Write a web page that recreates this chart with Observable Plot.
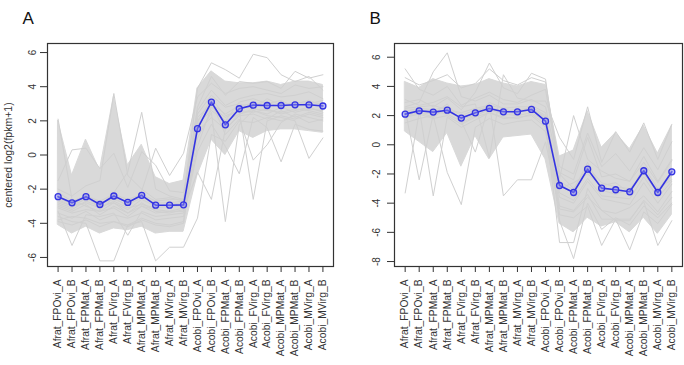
<!DOCTYPE html>
<html>
<head>
<meta charset="utf-8">
<script src="https://cdn.jsdelivr.net/npm/d3@7"></script>
<script src="https://cdn.jsdelivr.net/npm/@observablehq/plot@0.6"></script>
<style>
  html, body { margin: 0; padding: 0; background: #fff; }
  #wrap { display: flex; width: 684px; height: 365px; }
</style>
</head>
<body>
<div id="wrap"></div>
<script>
// ---------- data ----------
const xLabels = ["Afrat_FPOvi_A","Afrat_FPOvi_B","Afrat_FPMat_A","Afrat_FPMat_B","Afrat_FVirg_A","Afrat_FVirg_B","Afrat_MPMat_A","Afrat_MPMat_B","Afrat_MVirg_A","Afrat_MVirg_B","Acobi_FPOvi_A","Acobi_FPOvi_B","Acobi_FPMat_A","Acobi_FPMat_B","Acobi_FVirg_A","Acobi_FVirg_B","Acobi_MPMat_A","Acobi_MPMat_B","Acobi_MVirg_A","Acobi_MVirg_B"];
const yTicksA = [-6, -4, -2, 0, 2, 4, 6];
const yTicksB = [-8, -6, -4, -2, 0, 2, 4, 6];
const yTitle = "centered log2(fpkm+1)";

// Panel A: cluster mean profile
const meanA = [-2.44,-2.8,-2.44,-2.9,-2.4,-2.78,-2.36,-2.94,-2.94,-2.92,1.54,3.1,1.77,2.71,2.92,2.9,2.9,2.94,2.94,2.87];
// Panel A: dense core of gene profiles (lower / upper envelope)
const bandA_lo = [-4.1,-4.6,-4.2,-4.6,-4.3,-4.4,-4.2,-4.6,-4.5,-4.5,-1.2,0.9,0.0,1.4,1.0,1.4,1.5,1.5,1.4,1.3];
const bandA_hi = [2.0,-1.2,0.9,-0.9,3.4,-0.6,0.6,-1.3,-1.7,-1.5,3.9,4.9,4.3,4.2,4.2,4.3,4.1,4.3,4.3,4.1];
// Panel A: individual outlying gene profiles
const geneA1  = [2.1,-2.6,-3.0,-3.3,-2.8,-3.4,-3.0,-3.2,-3.3,-3.1,2.2,3.0,2.4,2.9,3.0,3.1,2.8,3.0,3.2,2.9];
const geneA2  = [-2.0,-2.4,-1.8,-1.5,3.6,-1.2,-2.0,-2.6,-2.5,-2.7,1.8,2.6,2.0,3.1,3.3,3.0,3.2,2.8,3.1,3.0];
const geneA3  = [-2.8,-3.1,-2.5,-3.0,-2.2,-1.0,2.5,-2.0,-2.4,-2.6,2.4,3.5,2.8,3.0,2.7,3.3,2.9,3.1,3.0,3.2];
const geneA4  = [-1.5,0.3,0.4,-0.8,0.1,-1.9,0.2,-0.6,-2.1,-2.2,2.6,3.8,2.9,3.3,3.5,3.6,3.4,3.5,3.7,3.3];
const geneA5  = [-2.6,-3.0,-2.3,-3.2,-2.5,-3.0,-2.1,0.4,-1.2,0.1,3.4,4.2,3.6,3.9,4.0,3.8,3.6,4.1,3.9,4.0];
const geneA6  = [-3.6,-3.9,-4.0,-6.2,-6.2,-4.1,-3.7,-4.0,-4.1,-3.9,1.4,2.2,1.5,2.3,2.4,2.1,2.6,2.2,2.5,2.3];
const geneA7  = [-3.8,-3.6,-3.7,-4.0,-3.9,-4.1,-3.9,-6.2,-5.4,-5.4,-3.7,1.2,0.8,2.0,1.9,2.2,2.0,2.3,1.9,2.1];
const geneA8  = [-3.3,-5.3,-3.5,-3.6,-3.4,-4.7,-3.3,-3.6,-3.5,-3.4,0.5,2.8,2.2,2.6,2.5,2.7,2.4,2.6,2.8,2.5];
const geneA9  = [-3.0,-3.3,-2.9,-3.5,-3.0,-3.4,-2.8,-3.3,-3.4,-3.2,-1.0,-2.6,1.5,2.4,2.7,2.6,2.5,2.7,2.6,2.4];
const geneA10 = [-2.7,-3.0,-2.8,-3.1,-2.7,-3.1,-2.9,-3.1,-3.0,-3.0,1.0,2.5,-3.9,1.8,2.6,2.4,2.8,2.5,2.7,2.6];
const geneA11 = [-3.1,-3.4,-3.2,-3.3,-3.1,-3.6,-3.0,-3.4,-3.3,-3.3,1.9,3.3,2.3,2.6,-2.6,2.0,2.3,2.1,2.4,2.2];
const geneA12 = [-2.5,-2.9,-2.6,-2.8,-2.6,-2.9,-2.5,-2.8,-2.8,-2.7,1.6,2.9,2.0,2.4,2.6,2.3,2.2,2.0,-0.2,1.0];
const geneA13 = [-2.2,-2.7,-2.4,-2.7,-2.3,-2.6,-2.3,-2.7,-2.6,-2.6,3.9,5.4,5.0,4.5,5.9,5.7,4.7,4.3,4.6,3.8];
const geneA14 = [-2.9,-3.2,-2.7,-3.0,-2.8,-3.2,-2.6,-3.0,-2.9,-2.8,2.8,4.6,3.5,4.3,4.2,4.3,3.9,4.9,4.5,4.7];
const geneA15 = [-3.4,-3.7,-3.3,-3.8,-3.5,-3.7,-3.4,-3.8,-3.7,-3.6,0.2,1.8,0.5,-1.1,2.2,1.6,-0.4,1.8,1.5,1.4];
const geneA16 = [-3.9,-4.1,-3.8,-4.2,-3.9,-4.2,-3.8,-4.1,-4.2,-4.0,2.0,3.1,1.2,2.1,-0.3,0.6,1.9,2.4,2.2,2.0];

// Panel B: cluster mean profile
const meanB = [2.1,2.33,2.24,2.37,1.83,2.19,2.49,2.26,2.26,2.42,1.62,-2.79,-3.27,-1.67,-2.97,-3.08,-3.22,-1.78,-3.27,-1.85];
const bandB_lo = [0.9,0.2,-0.5,0.8,-1.5,0.6,-1.0,0.5,0.6,0.7,-1.0,-5.4,-6.0,-5.0,-5.6,-5.3,-6.0,-5.0,-6.1,-4.8];
const bandB_hi = [4.3,3.9,4.5,4.2,4.0,4.1,4.5,4.2,4.0,4.3,4.1,-0.8,-0.4,2.3,-0.2,0.8,-0.3,1.3,-0.6,1.3];
const geneB1  = [5.2,3.8,3.4,4.0,2.7,3.2,3.6,3.1,2.9,3.4,3.8,-2.0,-3.0,-1.5,-2.6,-2.9,-3.0,-1.9,-3.1,-1.8];
const geneB2  = [-3.3,2.2,1.9,2.5,1.7,2.3,2.6,2.0,2.2,2.5,1.9,-2.5,-3.1,-1.2,-3.1,-3.4,-3.0,-2.0,-3.3,-2.1];
const geneB3  = [2.4,-2.4,2.1,2.8,1.5,2.0,2.9,2.5,2.1,2.7,2.2,-3.0,-2.6,-2.0,-2.8,-2.6,-3.3,-1.5,-3.0,-2.4];
const geneB4  = [1.8,2.5,-3.5,1.9,1.2,1.7,2.2,1.8,1.9,2.0,1.2,-3.3,-3.8,-2.3,-3.5,-3.6,-3.7,-2.2,-3.6,-2.5];
const geneB5  = [2.6,2.9,5.0,6.3,3.3,3.0,3.4,2.8,2.8,3.1,2.6,-1.9,-2.4,0.5,-2.2,-2.0,-2.5,-0.8,-2.5,-1.0];
const geneB6  = [1.5,1.8,2.0,-1.9,-4.1,1.2,1.8,1.4,1.6,1.7,0.9,-3.6,-4.0,-2.5,-3.7,-3.9,-4.1,-2.6,-4.0,-2.7];
const geneB7  = [2.9,3.1,2.6,3.2,2.4,3.6,5.6,3.9,3.5,4.9,4.5,-2.3,2.0,-1.0,-1.8,-2.3,-2.5,-1.2,-2.6,-1.1];
const geneB8  = [2.2,2.4,2.3,2.1,1.6,-0.5,2.8,-3.5,-2.4,-2.4,0.2,-4.4,-4.6,-3.6,-4.5,-4.7,-4.3,-3.5,-4.6,-3.2];
const geneB9  = [3.1,2.7,2.9,3.3,2.6,2.8,-0.9,4.8,3.2,3.0,3.0,0.5,-1.0,2.6,-1.2,0.9,-0.5,1.5,-1.0,1.4];
const geneB10 = [1.9,2.1,1.8,2.0,1.4,1.9,2.2,1.9,1.8,2.1,1.4,-6.7,-6.7,-3.0,-4.5,-5.2,-5.2,-3.8,-4.8,-3.6];
const geneB11 = [2.0,2.2,2.1,2.3,1.8,2.0,2.4,2.1,2.0,2.2,1.6,-5.2,-7.8,-4.0,-5.8,-5.0,-5.5,-4.2,-5.0,-4.0];
const geneB12 = [2.3,2.5,2.4,2.6,2.0,2.4,2.6,2.3,2.4,2.5,1.8,-4.8,-5.0,-4.2,-6.9,-5.1,-7.2,-4.6,-5.4,-4.1];
const geneB13 = [2.5,2.6,2.7,2.4,2.2,2.5,2.7,2.5,2.6,2.6,2.0,-4.2,-4.5,-3.4,-5.1,-5.1,-5.1,-3.9,-6.9,-5.2];
const geneB14 = [4.6,4.1,4.4,4.8,3.9,4.2,5.2,4.4,4.1,4.6,4.3,-1.5,-2.0,0.8,-1.5,-0.6,-1.8,-0.2,-1.7,0.2];

const genesA = [geneA1,geneA2,geneA3,geneA4,geneA5,geneA6,geneA7,geneA8,geneA9,geneA10,geneA11,geneA12,geneA13,geneA14,geneA15,geneA16];
const genesB = [geneB1,geneB2,geneB3,geneB4,geneB5,geneB6,geneB7,geneB8,geneB9,geneB10,geneB11,geneB12,geneB13,geneB14];

// ---------- drawing ----------
const cols = d3.range(1, xLabels.length + 1);
const FONT = "'Liberation Sans', Arial, Helvetica, sans-serif";

function panel({letter, mean, lo, hi, genes, yDomain, yTicks, marginLeft, marginRight, yLabelDx, title}) {
  const band = cols.map((c, k) => ({i: c, lo: lo[k], hi: hi[k]}));
  const lines = genes.flatMap((g, gi) => g.map((v, k) => ({id: gi, i: cols[k], v})));
  const m = mean.map((v, k) => ({i: cols[k], v}));
  const marks = [
    Plot.areaY(band, {x: "i", y1: "lo", y2: "hi", fill: "#d9d9d9", stroke: "#d9d9d9", strokeWidth: 1}),
    Plot.line(lines, {x: "i", y: "v", z: "id", stroke: "#d0d0d0", strokeWidth: 1}),
    Plot.line(m, {x: "i", y: "v", stroke: "#3434e2", strokeWidth: 1.6}),
    Plot.dot(m, {x: "i", y: "v", r: 3, fill: "#8a8af2", fillOpacity: 0.5, stroke: "#3434e2", strokeWidth: 1.3}),
    Plot.frame({stroke: "#333", strokeWidth: 1.2}),
    Plot.axisX({ticks: cols, tickSize: 6, tickFormat: () => "", label: null, stroke: "#333"}),
    Plot.axisY({ticks: yTicks, tickSize: 7, tickFormat: () => "", label: null, stroke: "#333"}),
    Plot.text(cols, {x: d => d, frameAnchor: "bottom", dy: 13, text: d => xLabels[d - 1], rotate: -90,
      textAnchor: "end", lineAnchor: "middle", fontSize: 10.3, fill: "#333"}),
    Plot.text(yTicks, {y: d => d, frameAnchor: "left", dx: yLabelDx, text: d => String(d), rotate: -90,
      textAnchor: "middle", lineAnchor: "middle", fontSize: 10, fill: "#333"}),
    Plot.text([letter], {frameAnchor: "top-left", dx: -25, dy: -25, text: d => d, textAnchor: "start",
      lineAnchor: "middle", fontSize: 17, fill: "#111"})
  ];
  if (title) {
    marks.push(Plot.text([title], {frameAnchor: "left", dx: -39, text: d => d, rotate: -90,
      textAnchor: "middle", lineAnchor: "middle", fontSize: 10.5, fill: "#333"}));
  }
  return Plot.plot({
    width: 342, height: 365,
    marginLeft, marginRight, marginTop: 43, marginBottom: 99,
    x: {domain: [0.24, 20.76], label: null},
    y: {domain: yDomain, label: null},
    style: {fontFamily: FONT, fontSize: "10px", color: "#333", background: "transparent", overflow: "visible"},
    marks
  });
}

const wrap = document.getElementById("wrap");
wrap.append(panel({letter: "A", mean: meanA, lo: bandA_lo, hi: bandA_hi, genes: genesA,
  yDomain: [-6.53, 6.53], yTicks: yTicksA, marginLeft: 47, marginRight: 9, yLabelDx: -15, title: yTitle}));
wrap.append(panel({letter: "B", mean: meanB, lo: bandB_lo, hi: bandB_hi, genes: genesB,
  yDomain: [-8.34, 6.94], yTicks: yTicksB, marginLeft: 52, marginRight: 2, yLabelDx: -18, title: null}));
</script>
</body>
</html>
